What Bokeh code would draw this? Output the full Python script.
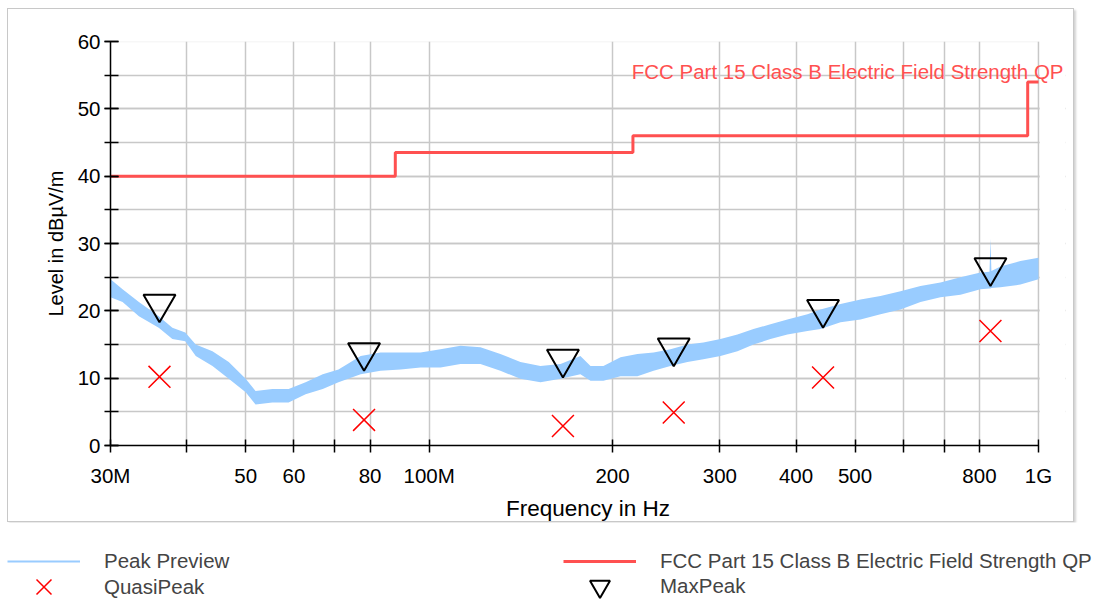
import math
from bokeh.plotting import figure
from bokeh.models import (Range1d, FixedTicker, SingleIntervalTicker, Label, Legend, LegendItem,
                          BoxAnnotation)
from bokeh.embed import file_html
from bokeh.resources import INLINE

FONT = "Liberation Sans"

# ---- data ----
freq_mhz = [30.0, 31.4, 33.4, 36.0, 37.9, 39.8, 41.4, 44.1, 46.9, 50.0, 51.9, 55.3, 58.8,
            62.7, 66.9, 71.0, 77.2, 83.2, 89.8, 96.8, 104.4, 112.6, 121.4, 130.9, 141.2,
            152.3, 164.3, 177.1, 184.0, 193.2, 206.1, 219.7, 233.5, 248.9, 265.4, 281.9,
            300.7, 320.6, 340.6, 363.2, 387.2, 417.7, 438.8, 473.3, 510.4, 550.4, 593.7,
            640.2, 690.4, 744.6, 803.1, 831.0, 834.0, 837.0, 866.1, 934.0, 1000.0]
peak_lo = [22.0, 21.3, 19.2, 17.5, 15.8, 15.5, 13.3, 11.8, 9.9, 7.9, 6.1, 6.4, 6.4,
           7.6, 8.4, 9.4, 10.6, 11.1, 11.3, 11.6, 11.6, 12.1, 12.1, 11.1, 9.9,
           9.4, 9.9, 10.6, 9.6, 9.6, 10.3, 10.3, 11.1, 11.8, 12.4, 12.8,
           13.3, 14.0, 15.0, 15.8, 16.5, 17.0, 17.3, 18.3, 18.7, 19.5, 20.2,
           21.3, 22.0, 22.4, 23.2, 23.3, 23.3, 23.4, 23.5, 23.9, 24.7]
peak_hi = [24.7, 23.2, 21.3, 19.2, 17.5, 16.8, 15.0, 14.0, 12.4, 9.9, 8.1, 8.4, 8.4,
           9.4, 10.6, 11.3, 13.3, 13.8, 13.8, 13.8, 14.3, 14.8, 14.6, 13.6, 12.4,
           11.8, 12.1, 13.3, 11.8, 11.8, 13.1, 13.6, 13.8, 14.3, 15.0, 15.3,
           15.8, 16.5, 17.3, 18.0, 18.7, 19.5, 20.2, 21.0, 21.7, 22.2, 22.9,
           23.7, 24.2, 25.0, 25.7, 25.8, 30.7, 25.9, 26.6, 27.4, 27.9]

limit_freq = [30, 88, 216, 960, 1000]
limit_level = [40, 43.5, 46, 54, 54]

marker_freq = [36.1, 78.2, 165.8, 252.0, 443.0, 834.0]
maxpeak_level = [18.3, 11.1, 10.1, 11.8, 17.5, 23.7]
quasipeak_level = [10.2, 3.8, 2.9, 4.9, 10.1, 17.0]

x_ticks = [30, 40, 50, 60, 70, 80, 100, 200, 300, 400, 500, 600, 700, 800, 1000]
x_tick_labels = ["30M", "", "50", "60", "", "80", "100M", "200", "300", "400", "500", "", "", "800", "1G"]

limit_name = "FCC Part 15 Class B Electric Field Strength QP"
peak_name = "Peak Preview"
qp_name = "QuasiPeak"
mp_name = "MaxPeak"

PEAK_COLOR = "#99ccff"
LIMIT_COLOR = "#ff5050"
QP_COLOR = "#ff0000"
GRID = "#c8c8c8"
FS = "20.5px"

# ---- main chart ----
W, H = 1067, 514
X0, X1 = x_ticks[0], x_ticks[-1]
Y0, Y1 = 0, 60
PLOT_W = 928                 # pixel width of the 30M..1G span
EXTRA = 27                   # frame continues past 1G so the limit caption is not clipped
MB_L, MB_T, MB_B = 102, 32, 76
MB_R = W - MB_L - PLOT_W - EXTRA
frame_h = H - MB_T - MB_B
px_per_decade = PLOT_W / math.log10(X1 / X0)
x_end = X1 * 10 ** (EXTRA / px_per_decade)

p = figure(width=W, height=H, x_axis_type="log",
           x_range=Range1d(X0, x_end), y_range=Range1d(Y0, Y1),
           output_backend="svg", toolbar_location=None,
           min_border_left=MB_L, min_border_right=MB_R,
           min_border_top=MB_T, min_border_bottom=MB_B,
           background_fill_color="white", border_fill_color="white",
           outline_line_color=None)
p.styles = {"margin-left": "7px", "margin-top": "8px",
            "border": "1px solid #c8c8c8", "box-shadow": "2px 2px 2px #d4d4d4"}

# axes
p.xaxis.ticker = FixedTicker(ticks=x_ticks, minor_ticks=[])
p.xaxis.major_label_overrides = dict(zip(x_ticks, x_tick_labels))
p.xaxis.bounds = (X0, X1)
p.yaxis.ticker = SingleIntervalTicker(interval=10, num_minor_ticks=2)
for ax in (p.xaxis[0], p.yaxis[0]):
    ax.axis_line_color = "black"
    ax.axis_line_width = 1.5
    ax.major_tick_line_color = "black"
    ax.major_tick_line_width = 1.5
    ax.minor_tick_line_color = "black"
    ax.minor_tick_line_width = 1.5
    ax.major_label_text_font = FONT
    ax.major_label_text_font_size = FS
    ax.major_label_text_color = "black"
    ax.axis_label_text_font = FONT
    ax.axis_label_text_font_style = "normal"
    ax.axis_label_text_color = "black"
p.xaxis.major_tick_in = 6
p.xaxis.major_tick_out = 7
p.yaxis.major_tick_in = 8
p.yaxis.major_tick_out = 6
p.yaxis.minor_tick_in = 8
p.yaxis.minor_tick_out = 6
p.xaxis.major_label_standoff = 11
p.yaxis.major_label_standoff = 4
p.xaxis.axis_label = "Frequency in Hz"
p.yaxis.axis_label = "Level in dBµV/m"
p.xaxis.axis_label_text_font_size = "22.5px"
p.yaxis.axis_label_text_font_size = "20px"
p.xaxis.axis_label_standoff = 6
p.yaxis.axis_label_standoff = 8

# grid
p.xgrid.grid_line_color = GRID
p.xgrid.grid_line_width = 1.5
p.ygrid.grid_line_color = GRID
p.ygrid.grid_line_width = 1.5
p.ygrid.minor_grid_line_color = GRID
p.ygrid.minor_grid_line_width = 1.5

# plot border (top / right edge of the 30M..1G area)
p.add_layout(BoxAnnotation(left=X0, right=X1, bottom=Y0, top=Y1, fill_alpha=0,
                           line_color=GRID, line_width=1.5, level="underlay"))

# peak preview band
p.varea(x=freq_mhz, y1=peak_lo, y2=peak_hi, fill_color=PEAK_COLOR)

# limit line
p.step(limit_freq, limit_level, mode="after", line_color=LIMIT_COLOR, line_width=3)

# quasi-peak crosses
p.scatter(marker_freq, quasipeak_level, marker="x", size=31, line_color=QP_COLOR, line_width=1.5)

# max-peak triangles: tip of the inverted triangle at the value
TRI = 32
tip_px = (2.0 / 3.0) * TRI * math.sqrt(3) / 2
tip_shift = tip_px * (Y1 - Y0) / frame_h
p.scatter(marker_freq, [v + tip_shift for v in maxpeak_level], marker="inverted_triangle",
          size=TRI, line_color="black", line_width=2, fill_color=None)

# blank the extra strip right of 1G (grid lines stop at 1G)
p.add_layout(BoxAnnotation(left=X1 * 10 ** (1.2 / px_per_decade), right=x_end, bottom=Y0, top=Y1,
                           fill_color="white", fill_alpha=1, line_color=None, level="annotation"))
# limit caption
p.add_layout(Label(x=X1, y=limit_level[-1], x_offset=25, y_offset=10,
                   text=limit_name, text_align="right", text_baseline="alphabetic",
                   text_color=LIMIT_COLOR, text_font=FONT, text_font_size=FS,
                   level="annotation"))

# ---- legend strip (separate root below the chart box) ----
H2 = 77
lg = figure(width=1098, height=H2, x_range=Range1d(0, 1), y_range=Range1d(0, 1),
            output_backend="svg", toolbar_location=None, min_border=0,
            x_axis_location=None, y_axis_location=None, outline_line_color=None)
lg.grid.visible = False
r_pk = lg.line(freq_mhz, peak_hi, line_color=PEAK_COLOR, line_width=2, visible=False)
r_lim = lg.line(limit_freq, limit_level, line_color=LIMIT_COLOR, line_width=3, visible=False)
r_qp = lg.scatter(marker_freq, quasipeak_level, marker="x", line_color=QP_COLOR,
                  line_width=1.5, visible=False)
r_mp = lg.scatter(marker_freq, maxpeak_level, marker="inverted_triangle", line_color="black",
                  line_width=2, fill_color=None, visible=False)

common = dict(padding=0, margin=0, border_line_color=None, background_fill_alpha=0,
              label_text_font=FONT, label_text_font_size=FS, label_standoff=24,
              glyph_width=73, spacing=0)
lg.add_layout(Legend(items=[LegendItem(label=peak_name, renderers=[r_pk])],
                     location=(7, 25), glyph_height=26, **common))
lg.add_layout(Legend(items=[LegendItem(label=qp_name, renderers=[r_qp])],
                     location=(7, -14), glyph_height=53, **common))
lg.add_layout(Legend(items=[LegendItem(label=limit_name, renderers=[r_lim])],
                     location=(563, 25), glyph_height=26, **common))
lg.add_layout(Legend(items=[LegendItem(label=mp_name, renderers=[r_mp])],
                     location=(563, -12), glyph_height=50, **common))

open("out.html", "w").write(file_html([p, lg], INLINE))
